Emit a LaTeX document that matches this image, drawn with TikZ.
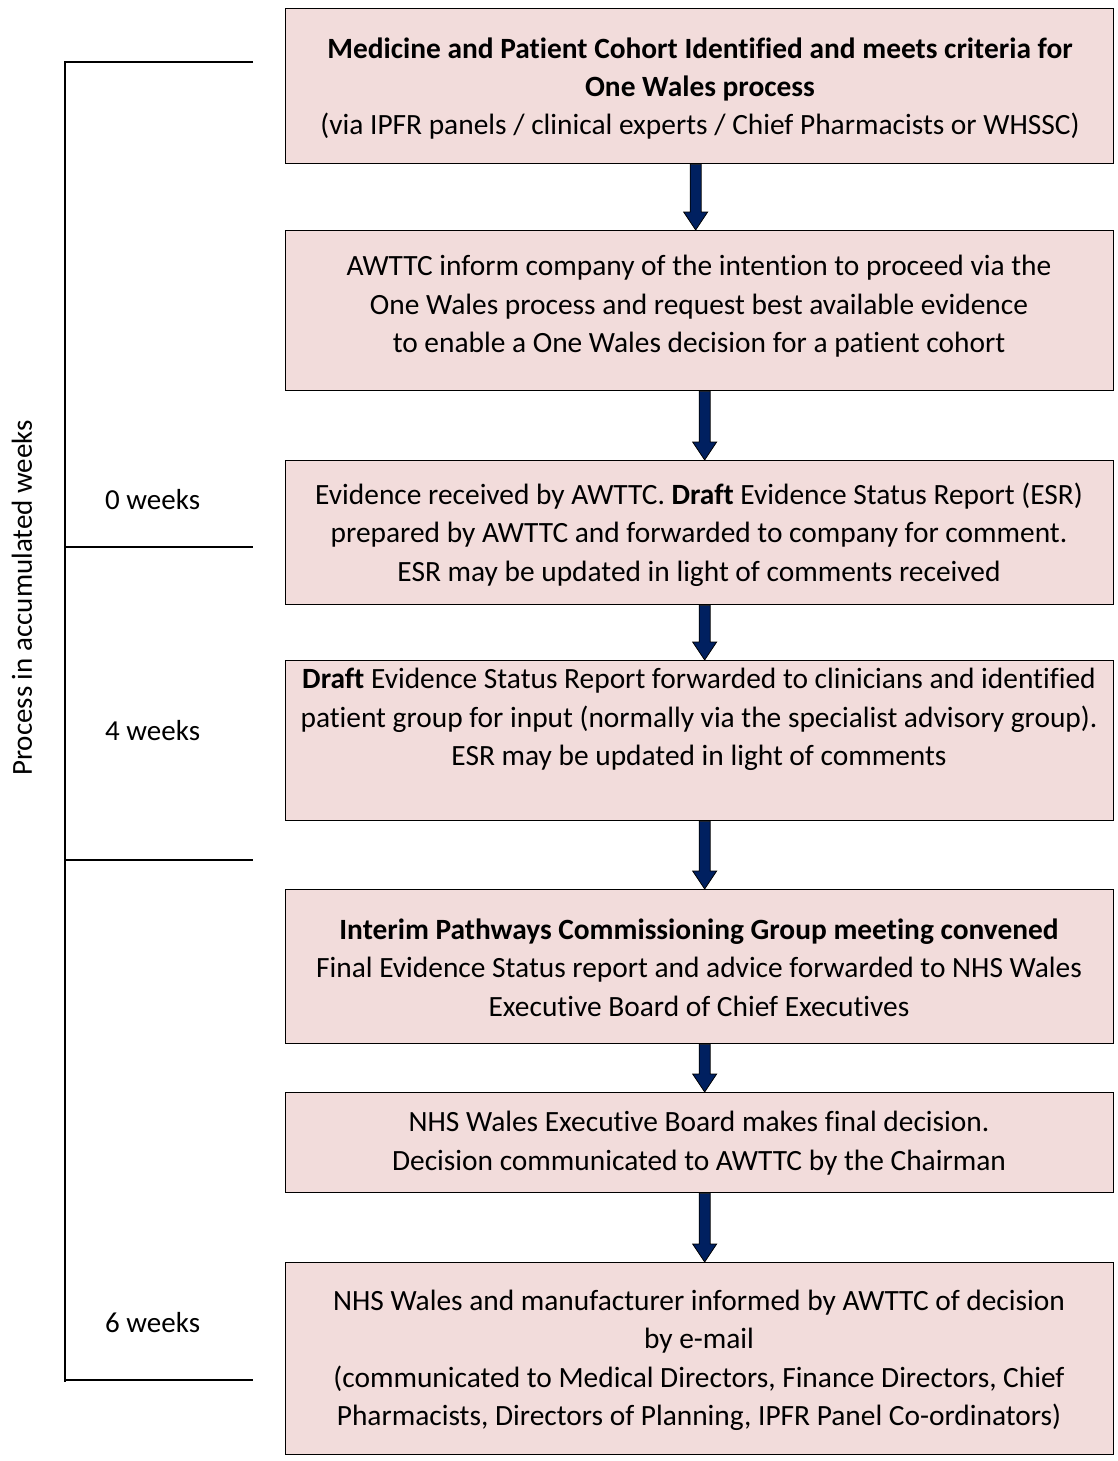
\documentclass[tikz,border=0pt]{standalone}
\usepackage{fontspec}
\setmainfont{Carlito}[Ligatures=NoCommon]
\usetikzlibrary{calc}
\definecolor{boxpink}{HTML}{F2DCDB}
\definecolor{navy}{RGB}{0,32,96}
\newcommand\fatarrow[3]{%
 \filldraw[fill=navy, draw=black, line width=0.8pt] let \p1=($(#1.south)+(#3,0)$), \p2=($(#2.north)+(#3,0)$) in
 (\x1-5.5pt,\y1) -- (\x1+5.5pt,\y1) -- (\x1+5.5pt,\y2+18pt) -- (\x1+12pt,\y2+18pt) -- (\x1,\y2) -- (\x1-12pt,\y2+18pt) -- (\x1-5.5pt,\y2+18pt) -- cycle;}
\begin{document}
\begin{tikzpicture}[x=1pt,y=-1pt,
 box/.style={draw=black, line width=1.3pt, fill=boxpink, rectangle, inner sep=0pt, minimum width=828pt, anchor=north west},
 txt/.style={align=center, font=\fontsize{29.4}{38.4}\selectfont, inner sep=0pt},
 lbl/.style={font=\fontsize{29}{35}\selectfont, inner sep=0pt},
 tline/.style={line width=1.3pt}]
\useasboundingbox (0,0) rectangle (1118,1461);
% boxes
\node[box, minimum height=155pt] (b1) at (285,8) {};
\node[box, minimum height=160pt] (b2) at (285,230) {};
\node[box, minimum height=144pt] (b3) at (285,460) {};
\node[box, minimum height=160pt] (b4) at (285,660) {};
\node[box, minimum height=154pt] (b5) at (285,889) {};
\node[box, minimum height=100pt] (b6) at (285,1092) {};
\node[box, minimum height=192pt] (b7) at (285,1262) {};
% texts
\node[txt] (t1) at (700,88.5) {\textbf{Medicine and Patient Cohort Identified and meets criteria for}\\\textbf{One Wales process}\\(via IPFR panels / clinical experts / Chief Pharmacists or WHSSC)};
\node[txt] (t2) at (699,306.5) {AWTTC inform company of the intention to proceed via the\\One Wales process and request best available evidence\\to enable a One Wales decision for a patient cohort};
\node[txt] (t3) at (699,534.5) {Evidence received by AWTTC. \textbf{Draft} Evidence Status Report (ESR)\\prepared by AWTTC and forwarded to company for comment.\\ESR may be updated in light of comments received};
\node[txt] (t4) at (699,719.5) {\textbf{Draft} Evidence Status Report forwarded to clinicians and identified\\patient group for input (normally via the specialist advisory group).\\ESR may be updated in light of comments};
\node[txt] (t5) at (699,967.5) {\textbf{Interim Pathways Commissioning Group meeting convened}\\Final Evidence Status report and advice forwarded to NHS Wales\\Executive Board of Chief Executives};
\node[txt] (t6) at (699,1143) {NHS Wales Executive Board makes final decision.\\Decision communicated to AWTTC by the Chairman};
\node[txt] (t7) at (699,1360.5) {NHS Wales and manufacturer informed by AWTTC of decision\\by e-mail\\(communicated to Medical Directors, Finance Directors, Chief\\Pharmacists, Directors of Planning, IPFR Panel Co-ordinators)};
% arrows
\fatarrow{b1}{b2}{-4}
\fatarrow{b2}{b3}{5}
\fatarrow{b3}{b4}{5}
\fatarrow{b4}{b5}{5}
\fatarrow{b5}{b6}{5}
\fatarrow{b6}{b7}{5}
% timeline
\coordinate (tl0) at (65,62);
\coordinate (tl3) at (65,1382);
\draw[tline] (253,62) -- (tl0) -- (tl3);
\draw[tline] (65,547) -- (253,547);
\draw[tline] (65,860) -- (253,860);
\draw[tline] (65,1380) -- (253,1380);
\node[lbl, anchor=west] (w0) at (105,500) {0 weeks};
\node[lbl, anchor=west] (w4) at (105,731) {4 weeks};
\node[lbl, anchor=west] (w6) at (105,1323) {6 weeks};
\node[lbl, rotate=90] (axis) at (22,598) {Process in accumulated weeks};
\end{tikzpicture}
\end{document}
